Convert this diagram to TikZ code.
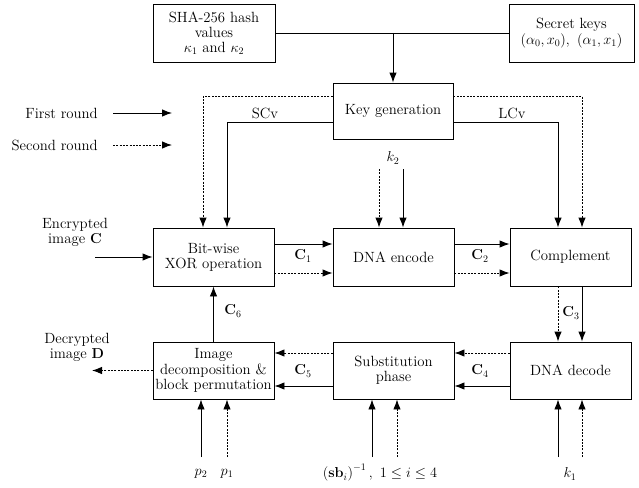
\documentclass[tikz,border=0pt]{standalone}
\usetikzlibrary{arrows.meta,calc}
\begin{document}
\begin{tikzpicture}[x=1pt,y=-1pt,
  every node/.style={font=\fontsize{14.8}{15.2}\selectfont},
  box/.style={draw,line width=0.9pt,inner sep=1pt,align=center},
  ln/.style={line width=0.9pt},
  arr/.style={ln,-{Latex[length=10pt,width=7.5pt]}},
  darr/.style={arr,dash pattern=on 2pt off 1.3pt},
  dln/.style={ln,dash pattern=on 2pt off 1.3pt},
  lbl/.style={inner sep=1pt}]
\useasboundingbox (0,0) rectangle (639,487);
% boxes
\node[box,minimum width=122pt,minimum height=58pt] (sha) at (214,33) {SHA-256 hash\\values\\$\kappa_1$ and $\kappa_2$};
\node[box,minimum width=125pt,minimum height=58pt] (keys) at (571.5,33) {Secret keys\\$(\alpha_0,x_0),~(\alpha_1,x_1)$};
\node[box,minimum width=120pt,minimum height=56pt] (kg) at (393,111) {Key generation};
\node[box,minimum width=121pt,minimum height=58pt] (xor) at (213.5,257) {Bit-wise\\XOR operation};
\node[box,minimum width=121pt,minimum height=58pt] (enc) at (393.5,257) {DNA encode};
\node[box,minimum width=121pt,minimum height=58pt] (comp) at (570.5,257) {Complement};
\node[box,minimum width=121pt,minimum height=57pt] (img) at (213.5,370.5) {Image\\decomposition \&\\block permutation};
\node[box,minimum width=121pt,minimum height=57pt] (sub) at (393.5,370.5) {Substitution\\phase};
\node[box,minimum width=121pt,minimum height=57pt] (dec) at (570.5,370.5) {DNA decode};
% top connectors
\draw[ln] (sha.east) -- (keys.west);
\coordinate (j) at (sha.east -| kg.north);
\draw[arr] (j) -- (kg.north);
% key generation outputs
\draw[darr] ([yshift=-14pt]kg.north west) -| ([xshift=-10.5pt]xor.north);
\draw[arr] ([yshift=-40pt]kg.north west) -| ([xshift=13.5pt]xor.north);
\draw[arr] ([yshift=-40pt]kg.north east) -| ([xshift=-12.5pt]comp.north);
\draw[darr] ([yshift=-14pt]kg.north east) -| ([xshift=11.5pt]comp.north);
\node[lbl] (scv) at (265,113) {SCv};
\node[lbl] (lcv) at (512,113) {LCv};
% legend
\node[lbl,anchor=east] (fr) at (99,113) {First round};
\node[lbl,anchor=east] (sr) at (99,145) {Second round};
\coordinate (fre) at (172,113);
\coordinate (sre) at (172,145);
\draw[arr] ([xshift=14pt]fr.east) -- (fre);
\draw[darr] ([xshift=14pt]sr.east) -- (sre);
% k2
\coordinate (k2a) at (379,169);
\coordinate (k2b) at (403,169);
\draw[darr] (k2a) -- (k2a |- enc.north);
\draw[arr] (k2b) -- (k2b |- enc.north);
\node[lbl] (k2) at (393,158) {$k_2$};
% encrypted image
\node[lbl,align=center] (ein) at (75,232) {Encrypted\\image $\mathbf{C}$};
\coordinate (eins) at (95,257);
\draw[arr] (eins) -- (xor.west);
% row 1
\draw[arr] ([yshift=13pt]xor.east) -- ([yshift=13pt]enc.west);
\draw[darr] ([yshift=-16pt]xor.east) -- ([yshift=-16pt]enc.west);
\draw[arr] ([yshift=13pt]enc.east) -- ([yshift=13pt]comp.west);
\draw[darr] ([yshift=-16pt]enc.east) -- ([yshift=-16pt]comp.west);
\node[lbl] (c1) at (303,256) {$\mathbf{C}_1$};
\node[lbl] (c2) at (480,256) {$\mathbf{C}_2$};
% complement to DNA decode
\draw[darr] ([xshift=-12.5pt]comp.south) -- ([xshift=-12.5pt]dec.north);
\draw[arr] ([xshift=11.5pt]comp.south) -- ([xshift=11.5pt]dec.north);
\node[lbl] (c3) at (571,313) {$\mathbf{C}_3$};
% row 2
\draw[darr] ([yshift=17.5pt]dec.west) -- ([yshift=17.5pt]sub.east);
\draw[arr] ([yshift=-15.5pt]dec.west) -- ([yshift=-15.5pt]sub.east);
\draw[darr] ([yshift=17.5pt]sub.west) -- ([yshift=17.5pt]img.east);
\draw[arr] ([yshift=-15.5pt]sub.west) -- ([yshift=-15.5pt]img.east);
\node[lbl] (c4) at (480,371) {$\mathbf{C}_4$};
\node[lbl] (c5) at (303,371) {$\mathbf{C}_5$};
% C6
\draw[arr] (img.north) -- (xor.south);
\node[lbl] (c6) at (233,311) {$\mathbf{C}_6$};
% decrypted
\node[lbl,align=center] (dout) at (77,347) {Decrypted\\image $\mathbf{D}$};
\coordinate (douts) at (92,370.5);
\draw[darr] (img.west) -- (douts);
% bottom inputs
\coordinate (p2s) at (201,457);
\coordinate (p1s) at (227,457);
\draw[arr] (p2s) -- (p2s |- img.south);
\draw[darr] (p1s) -- (p1s |- img.south);
\node[lbl] (p2) at (201,474) {$p_2$};
\node[lbl] (p1) at (227,474) {$p_1$};
\coordinate (sbs) at (372,457);
\coordinate (sbd) at (397,457);
\draw[arr] (sbs) -- (sbs |- sub.south);
\draw[darr] (sbd) -- (sbd |- sub.south);
\node[lbl] (sb) at (380,473) {$\left(\mathbf{sb}_i\right)^{-1},~1\le i\le 4$};
\coordinate (k1s) at (558,457);
\coordinate (k1d) at (582,457);
\draw[arr] (k1s) -- (k1s |- dec.south);
\draw[darr] (k1d) -- (k1d |- dec.south);
\node[lbl] (k1) at (570,474) {$k_1$};
\end{tikzpicture}
\end{document}
